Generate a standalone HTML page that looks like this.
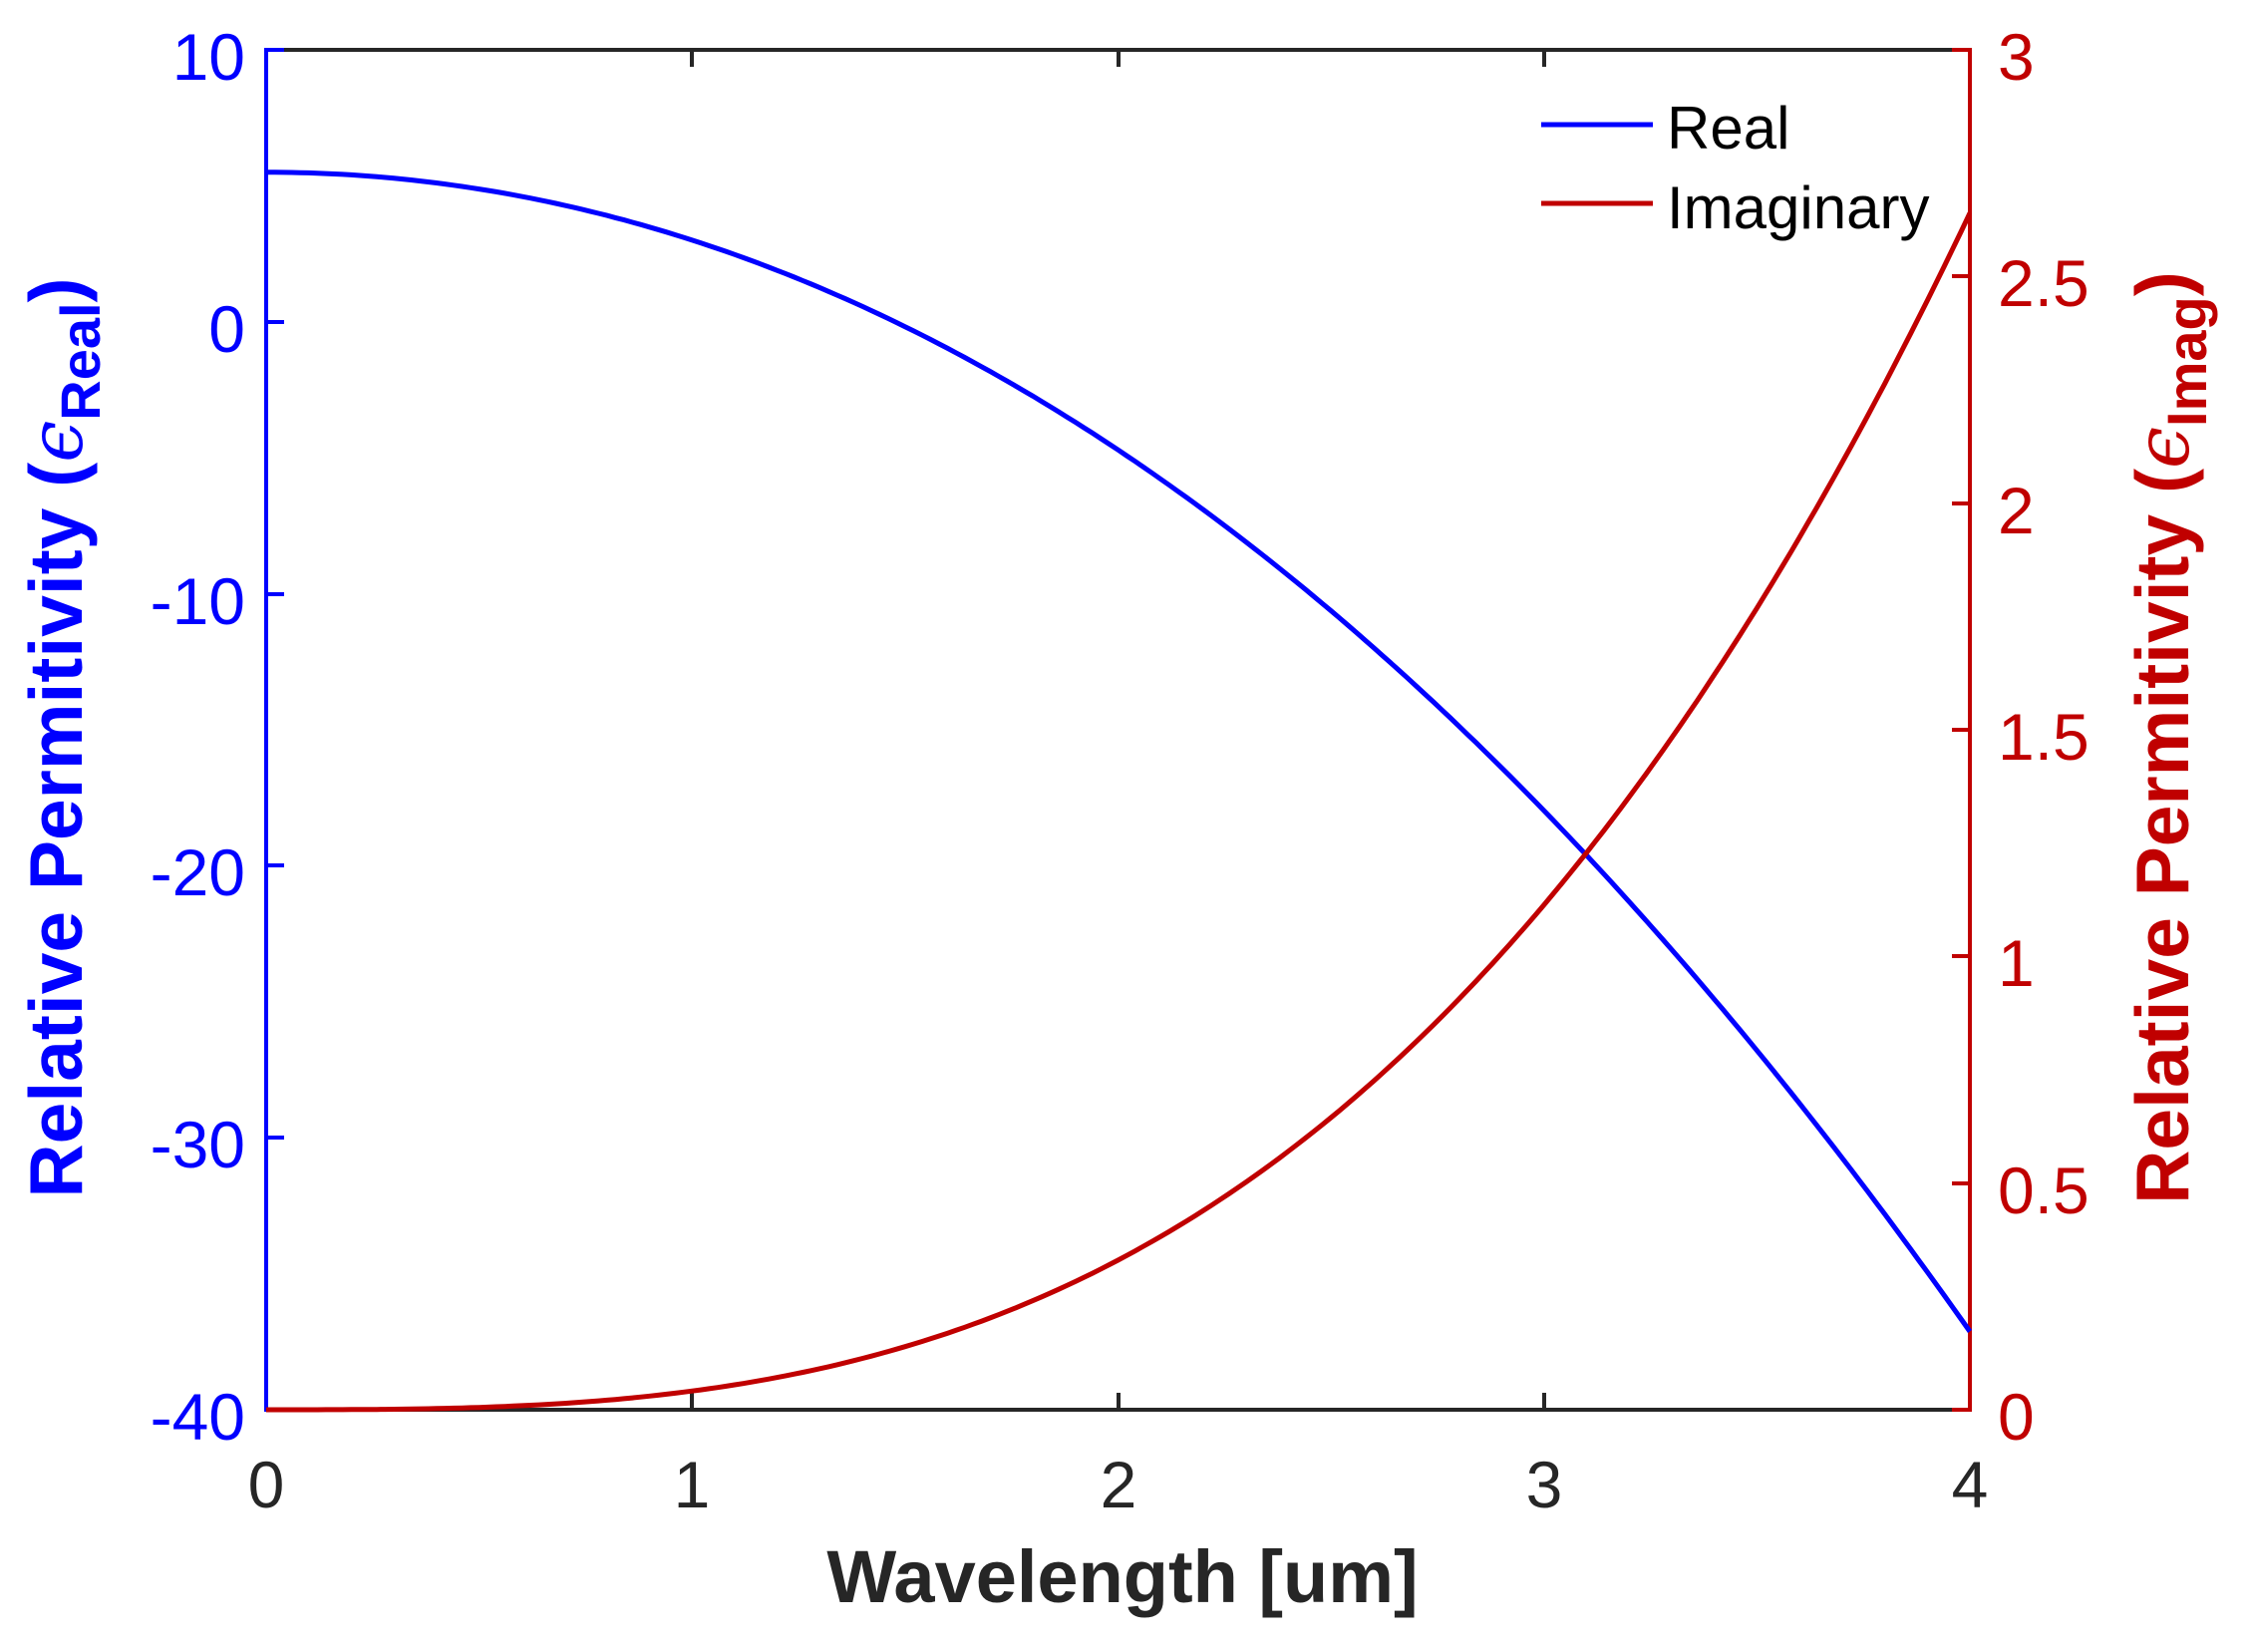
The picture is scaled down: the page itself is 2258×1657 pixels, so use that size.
<!DOCTYPE html>
<html><head><meta charset="utf-8"><style>
html,body{margin:0;padding:0;background:#fff;}
svg{display:block;font-family:"Liberation Sans",Arial,sans-serif;}
</style></head><body>
<svg id="s" width="2258" height="1657" viewBox="0 0 2258 1657" xmlns="http://www.w3.org/2000/svg">
<rect width="2258" height="1657" fill="#fff"/>
<line x1="267" y1="50" x2="1976" y2="50" stroke="#262626" stroke-width="4"/>
<line x1="267" y1="1414" x2="1976" y2="1414" stroke="#262626" stroke-width="4"/>
<g stroke="#262626" stroke-width="4">
<line x1="694" y1="1414" x2="694" y2="1397"/><line x1="1122" y1="1414" x2="1122" y2="1397"/><line x1="1549" y1="1414" x2="1549" y2="1397"/>
<line x1="694" y1="50" x2="694" y2="67"/><line x1="1122" y1="50" x2="1122" y2="67"/><line x1="1549" y1="50" x2="1549" y2="67"/>
</g>
<line x1="267" y1="48" x2="267" y2="1416" stroke="#0000ff" stroke-width="4"/>
<g stroke="#0000ff" stroke-width="4">
<line x1="267" y1="50" x2="285" y2="50"/><line x1="267" y1="323" x2="285" y2="323"/><line x1="267" y1="596" x2="285" y2="596"/><line x1="267" y1="868" x2="285" y2="868"/><line x1="267" y1="1141" x2="285" y2="1141"/><line x1="267" y1="1414" x2="285" y2="1414"/>
</g>
<line x1="1976" y1="48" x2="1976" y2="1416" stroke="#c00000" stroke-width="4"/>
<g stroke="#c00000" stroke-width="4">
<line x1="1958" y1="50" x2="1976" y2="50"/><line x1="1958" y1="277" x2="1976" y2="277"/><line x1="1958" y1="505" x2="1976" y2="505"/><line x1="1958" y1="732" x2="1976" y2="732"/><line x1="1958" y1="959" x2="1976" y2="959"/><line x1="1958" y1="1187" x2="1976" y2="1187"/><line x1="1958" y1="1414" x2="1976" y2="1414"/>
</g>
<path id="real" fill="none" stroke="#0000ff" stroke-width="5"/>
<path id="imag" fill="none" stroke="#c00000" stroke-width="5"/>
<g fill="#0000ff" font-size="66" text-anchor="end">
<text x="246" y="80">10</text><text x="246" y="353">0</text><text x="246" y="626">-10</text><text x="246" y="898">-20</text><text x="246" y="1171">-30</text><text x="246" y="1444">-40</text>
</g>
<g fill="#c00000" font-size="66" text-anchor="start">
<text x="2004" y="80">3</text><text x="2004" y="307">2.5</text><text x="2004" y="535">2</text><text x="2004" y="762">1.5</text><text x="2004" y="989">1</text><text x="2004" y="1217">0.5</text><text x="2004" y="1444">0</text>
</g>
<g fill="#262626" font-size="66" text-anchor="middle">
<text x="267" y="1512">0</text><text x="694" y="1512">1</text><text x="1122" y="1512">2</text><text x="1549" y="1512">3</text><text x="1976" y="1512">4</text>
</g>
<text x="1126" y="1607" fill="#262626" font-size="74" font-weight="bold" text-anchor="middle">Wavelength [um]</text>
<text transform="translate(82,740) rotate(-90)" fill="#0000ff" font-size="75" font-weight="bold" text-anchor="middle">Relative Permitivity (<tspan font-weight="normal" font-family="DejaVu Serif" font-style="italic">ϵ</tspan><tspan dy="18" font-size="56">Real</tspan><tspan dy="-18">)</tspan></text>
<text transform="translate(2195,740) rotate(-90)" fill="#c00000" font-size="75" font-weight="bold" text-anchor="middle">Relative Permitivity (<tspan font-weight="normal" font-family="DejaVu Serif" font-style="italic">ϵ</tspan><tspan dy="18" font-size="56">Imag</tspan><tspan dy="-18">)</tspan></text>
<line x1="1546" y1="125" x2="1658" y2="125" stroke="#0000ff" stroke-width="5"/>
<line x1="1546" y1="204" x2="1658" y2="204" stroke="#c00000" stroke-width="5"/>
<text x="1672" y="149" font-size="60" fill="#000">Real</text>
<text x="1672" y="229" font-size="60" fill="#000">Imaginary</text>
</svg>
<script>
var X=function(l){return 267+l*427.25},YL=function(v){return 50+(10-v)*27.28},YR=function(v){return 1414-v*454.67};
var a="",b="";
for(var i=0;i<=200;i++){var l=i*0.02;var r=5.5-2.44*l*l-0.056*l*l*l;var im=0.04125*l*l*l;
a+=(i?"L":"M")+X(l).toFixed(1)+" "+YL(r).toFixed(1);b+=(i?"L":"M")+X(l).toFixed(1)+" "+YR(im).toFixed(1);}
document.getElementById("real").setAttribute("d",a);document.getElementById("imag").setAttribute("d",b);
</script>
</body></html>
